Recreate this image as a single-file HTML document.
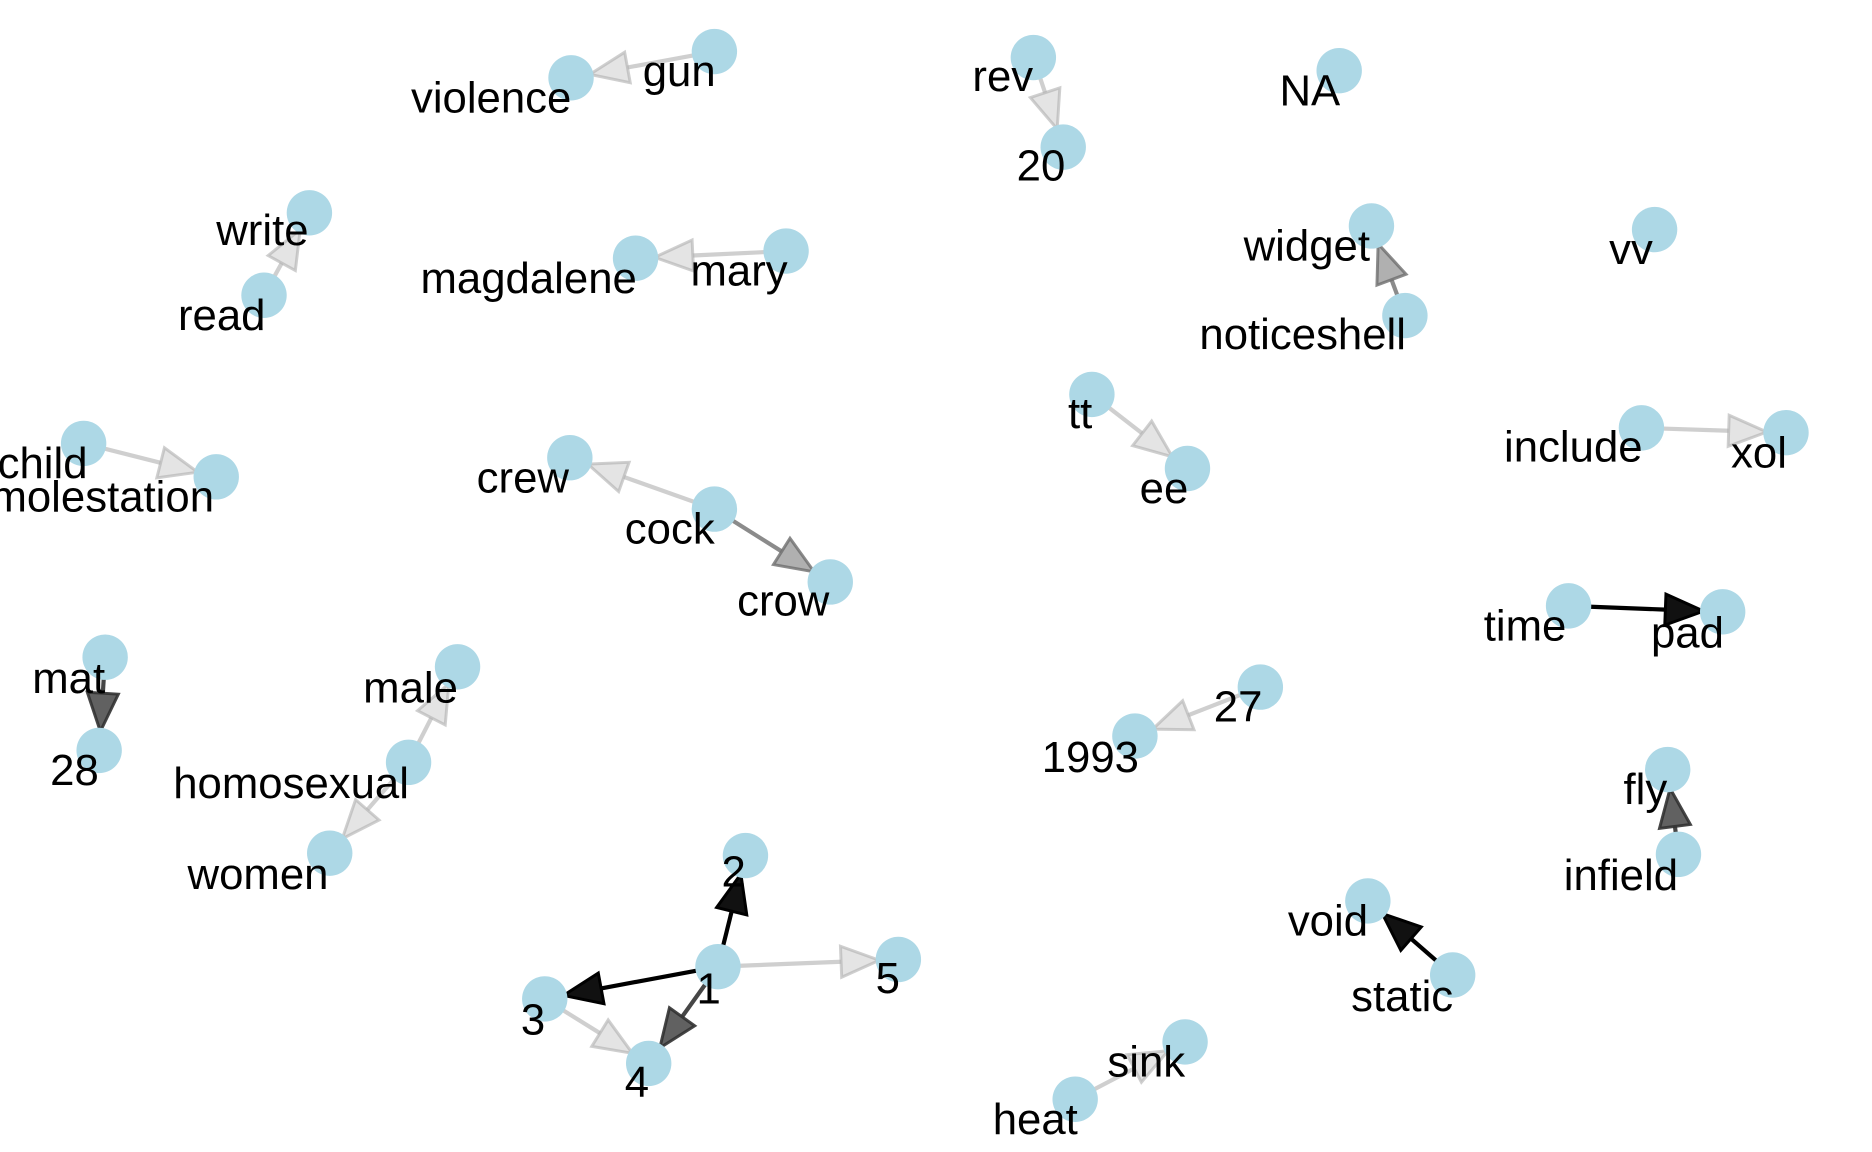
<!DOCTYPE html>
<html><head><meta charset="utf-8"><style>
html,body{margin:0;padding:0;background:#fff;width:1872px;height:1152px;overflow:hidden}
svg{display:block}
text{font-family:"Liberation Sans",Arial,sans-serif;font-size:36.6px;fill:#000}
</style></head><body>
<svg id="s" width="1872" height="1152" viewBox="0 0 1567 964" xmlns="http://www.w3.org/2000/svg">
<g id="edges"></g>
<g id="nodes" fill="#add8e6"></g>
<g id="labels">
<text x="344" y="94">violence</text>
<text x="538" y="72">gun</text>
<text x="814" y="76">rev</text>
<text x="851" y="151">20</text>
<text x="1071" y="88">NA</text>
<text x="181" y="205">write</text>
<text x="149" y="276">read</text>
<text x="352" y="245">magdalene</text>
<text x="578" y="239">mary</text>
<text x="1041" y="218">widget</text>
<text x="1004" y="292">noticeshell</text>
<text x="1347" y="221">vv</text>
<text x="894" y="358">tt</text>
<text x="954" y="421">ee</text>
<text x="1259" y="386">include</text>
<text x="1449" y="391">xol</text>
<text x="-2" y="400">child</text>
<text x="-8" y="428">molestation</text>
<text x="399" y="412">crew</text>
<text x="523" y="455">cock</text>
<text x="617" y="515">crow</text>
<text x="1242" y="536">time</text>
<text x="1382" y="542">pad</text>
<text x="27" y="580">mat</text>
<text x="42" y="657">28</text>
<text x="304" y="588">male</text>
<text x="145" y="668">homosexual</text>
<text x="157" y="744">women</text>
<text x="1016" y="604">27</text>
<text x="872" y="646">1993</text>
<text x="1359" y="673">fly</text>
<text x="1309" y="745">infield</text>
<text x="604" y="742">2</text>
<text x="583" y="840">1</text>
<text x="436" y="866">3</text>
<text x="523" y="918">4</text>
<text x="733" y="831">5</text>
<text x="1078" y="783">void</text>
<text x="1131" y="846">static</text>
<text x="927" y="901">sink</text>
<text x="831" y="949">heat</text>
</g>
</svg>
<script>
var N={gun:[598,43],violence:[478,65],rev:[865,48],n20:[890,123],NA:[1121,59],write:[259,178],read:[221,247],
mary:[658,210],magdalene:[532,216],widget:[1148,189],noticeshell:[1176,264],vv:[1385,192],tt:[914,330],ee:[994,392],
include:[1374,358],xol:[1495,362],child:[70,371],molestation:[181,399],cock:[598,426],crew:[477,383],crow:[695,487],
time:[1313,507],pad:[1442,512],mat:[88,550],n28:[83,628],male:[383,558],homo:[342,638],women:[276,714],
n27:[1055,575],n1993:[950,616],fly:[1396,644],infield:[1405,715],n2:[624,716],n1:[601,809],n3:[456,836],n4:[543,890],n5:[752,803],
void:[1145,754],static:[1216,816],sink:[992,872],heat:[900,920]};
var L=['rgba(205,205,205,0.55)','rgba(175,175,175,0.6)'],M=['rgba(150,150,150,0.75)','rgba(110,110,110,0.8)'],
D=['rgba(80,80,80,0.9)','rgba(50,50,50,0.9)'],B=['#111','#000'];
var E=[['gun','violence',L],['rev','n20',L],['read','write',L],['mary','magdalene',L],['noticeshell','widget',M],
['tt','ee',L],['include','xol',L],['child','molestation',L],['cock','crew',L],['cock','crow',M],['time','pad',B],
['mat','n28',D],['homo','male',L],['homo','women',L],['n27','n1993',L],['infield','fly',D],['n1','n2',B],['n1','n3',B],
['n1','n4',D],['n1','n5',L],['n3','n4',L],['static','void',B],['heat','sink',L]];
var ns='http://www.w3.org/2000/svg',eg=document.getElementById('edges'),ng=document.getElementById('nodes');
E.forEach(function(e){var a=N[e[0]],b=N[e[1]],dx=b[0]-a[0],dy=b[1]-a[1],d=Math.hypot(dx,dy),ux=dx/d,uy=dy/d;
var tx=b[0]-ux*16,ty=b[1]-uy*16,bx=tx-ux*32,by=ty-uy*32,px=-uy*13,py=ux*13;
var l=document.createElementNS(ns,'line');l.setAttribute('x1',a[0]);l.setAttribute('y1',a[1]);l.setAttribute('x2',bx);l.setAttribute('y2',by);
l.setAttribute('stroke',e[2][1]);l.setAttribute('stroke-width',3.5);eg.appendChild(l);
var p=document.createElementNS(ns,'polygon');p.setAttribute('points',tx+','+ty+' '+(bx+px)+','+(by+py)+' '+(bx-px)+','+(by-py));
p.setAttribute('fill',e[2][0]);p.setAttribute('stroke',e[2][1]);p.setAttribute('stroke-width',2.5);eg.appendChild(p);});
for(var k in N){var c=document.createElementNS(ns,'circle');c.setAttribute('cx',N[k][0]);c.setAttribute('cy',N[k][1]);c.setAttribute('r',19);ng.appendChild(c);}
</script>
</body></html>
